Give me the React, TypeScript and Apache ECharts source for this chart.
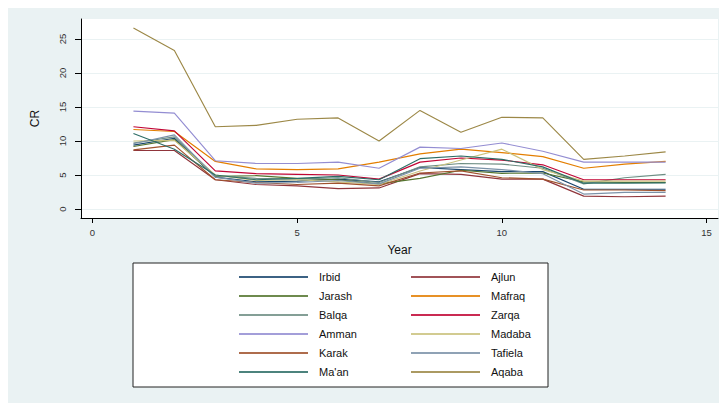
import React, { useEffect, useRef } from "react";
import * as echarts from "echarts";

// Concentration ratio (CR) by governorate, years 1–14
const years = [1, 2, 3, 4, 5, 6, 7, 8, 9, 10, 11, 12, 13, 14];

const irbid = [9.4, 10.4, 4.7, 4.0, 4.1, 4.4, 4.0, 6.1, 5.8, 5.5, 5.5, 2.9, 2.9, 2.9];
const ajlun = [8.6, 8.6, 4.3, 3.6, 3.4, 3.0, 3.1, 5.2, 5.1, 4.4, 4.4, 1.9, 1.8, 1.9];
const jarash = [9.2, 10.2, 4.8, 4.9, 4.5, 4.3, 3.7, 4.5, 5.7, 5.25, 5.3, 4.0, 3.9, 3.9];
const mafraq = [11.7, 11.4, 7.0, 5.9, 5.8, 5.9, 6.9, 8.1, 8.8, 8.3, 7.7, 6.0, 6.6, 7.0];
const balqa = [9.7, 10.6, 4.9, 4.5, 4.4, 4.6, 3.9, 6.2, 6.7, 6.6, 6.0, 3.7, 4.6, 5.1];
const zarqa = [12.1, 11.5, 5.6, 5.2, 5.1, 5.0, 4.4, 6.9, 7.5, 7.2, 6.5, 4.3, 4.3, 4.3];
const amman = [14.4, 14.1, 7.1, 6.7, 6.7, 6.9, 6.0, 9.1, 8.9, 9.7, 8.5, 6.9, 6.9, 6.9];
const madaba = [10.0, 10.1, 5.0, 4.2, 4.3, 4.0, 3.6, 5.6, 7.2, 8.8, 5.8, 4.1, 4.1, 4.1];
const karak = [8.7, 9.4, 4.3, 3.9, 3.6, 3.8, 3.4, 5.3, 5.6, 4.6, 4.4, 2.8, 2.8, 2.7];
const tafiela = [9.6, 10.9, 4.7, 3.8, 3.9, 4.2, 3.7, 6.0, 6.2, 5.8, 5.2, 2.2, 2.45, 2.45];
const maan = [11.1, 8.8, 5.0, 4.3, 4.5, 4.8, 4.3, 7.4, 7.8, 7.3, 6.2, 3.8, 3.8, 3.85];
const aqaba = [26.6, 23.3, 12.1, 12.3, 13.2, 13.4, 10.0, 14.5, 11.3, 13.5, 13.4, 7.3, 7.8, 8.4];

const xTicks = [0, 5, 10, 15];
const yTicks = [0, 5, 10, 15, 20, 25];

const leftColumn = ["Irbid", "Jarash", "Balqa", "Amman", "Karak", "Ma'an"];
const rightColumn = ["Ajlun", "Mafraq", "Zarqa", "Madaba", "Tafiela", "Aqaba"];

const seriesDefs: { name: string; values: number[]; color: string }[] = [
  { name: "Irbid", values: irbid, color: "#1a476f" },
  { name: "Ajlun", values: ajlun, color: "#90353b" },
  { name: "Jarash", values: jarash, color: "#55752f" },
  { name: "Mafraq", values: mafraq, color: "#e37e00" },
  { name: "Balqa", values: balqa, color: "#6e8e84" },
  { name: "Zarqa", values: zarqa, color: "#c10534" },
  { name: "Amman", values: amman, color: "#938dd2" },
  { name: "Madaba", values: madaba, color: "#cac27e" },
  { name: "Karak", values: karak, color: "#a0522d" },
  { name: "Tafiela", values: tafiela, color: "#7b92a8" },
  { name: "Ma'an", values: maan, color: "#2d6d66" },
  { name: "Aqaba", values: aqaba, color: "#9c8847" },
];

const colorOf = (name: string) =>
  seriesDefs.find((s) => s.name === name)?.color ?? "#000";

const FONT = "'Liberation Sans', Arial, sans-serif";

export default function App() {
  const ref = useRef<HTMLDivElement>(null);

  useEffect(() => {
    if (!ref.current) return;
    const chart = echarts.init(ref.current, null, { renderer: "svg" });

    const legendCommon = {
      orient: "vertical" as const,
      top: 262.5,
      padding: 0,
      itemWidth: 69,
      itemHeight: 2,
      itemGap: 0,
      icon: "rect",
      selectedMode: false,
      itemStyle: { borderWidth: 0 },
      lineStyle: { width: 0 },
      textStyle: {
        fontFamily: FONT,
        fontSize: 11,
        lineHeight: 19,
        color: "#111",
        padding: [0, 0, 0, 6],
      },
    };

    const legendData = (names: string[]) =>
      names.map((n) => ({
        name: n,
        itemStyle: { color: colorOf(n), opacity: 0.85, borderWidth: 0 },
      }));

    chart.setOption({
      animation: false,
      backgroundColor: "#eaf2f3",
      textStyle: { fontFamily: FONT },
      grid: {
        left: 73,
        top: 14,
        right: 9,
        bottom: 185,
        show: true,
        backgroundColor: "#ffffff",
        borderWidth: 0,
      },
      xAxis: {
        type: "value",
        min: -0.281,
        max: 15.28,
        name: "Year",
        nameLocation: "middle",
        nameGap: 26,
        nameTextStyle: { fontSize: 12, color: "#111", fontFamily: FONT },
        axisLine: { show: true, onZero: false, lineStyle: { color: "#000", width: 1 } },
        axisTick: { show: true, length: 5, customValues: xTicks, lineStyle: { color: "#000" } },
        axisLabel: { customValues: xTicks, fontSize: 9.5, color: "#333", margin: 9, fontFamily: FONT },
        splitLine: { show: false },
      },
      yAxis: {
        type: "value",
        min: -1.32,
        max: 27.94,
        name: "CR",
        nameLocation: "middle",
        nameGap: 40,
        nameRotate: 90,
        nameTextStyle: { fontSize: 12, color: "#111", fontFamily: FONT },
        axisLine: { show: true, onZero: false, lineStyle: { color: "#000", width: 1 } },
        axisTick: { show: true, length: 6, customValues: yTicks, lineStyle: { color: "#000" } },
        axisLabel: {
          customValues: yTicks,
          rotate: 90,
          fontSize: 9.5,
          color: "#333",
          margin: 14,
          fontFamily: FONT,
        },
        splitLine: { show: true, lineStyle: { color: "#eaf2f3", width: 1 } },
      },
      graphic: [
        {
          type: "rect",
          z: 0,
          shape: { x: 125, y: 258, width: 415, height: 124 },
          style: { fill: "#ffffff", stroke: "#222", lineWidth: 1 },
        },
      ],
      legend: [
        { ...legendCommon, left: 231, data: legendData(leftColumn) },
        { ...legendCommon, left: 403, data: legendData(rightColumn) },
      ],
      series: seriesDefs.map((s) => ({
        name: s.name,
        type: "line",
        symbol: "none",
        color: s.color,
        itemStyle: { color: s.color },
        lineStyle: { color: s.color, width: 1.15 },
        data: years.map((y, i) => [y, s.values[i]]),
      })),
    });

    return () => chart.dispose();
  }, []);

  return (
    <div
      ref={ref}
      style={{ width: 719, height: 398, position: "relative", top: -3 }}
    />
  );
}
